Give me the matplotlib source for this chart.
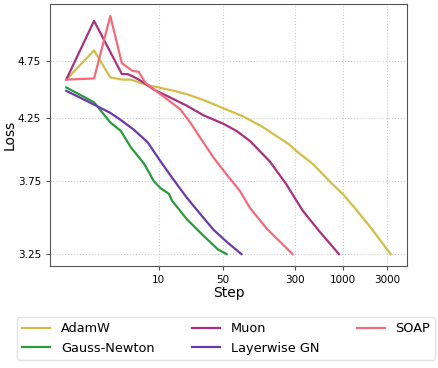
import matplotlib
matplotlib.use("Agg")
import matplotlib.pyplot as plt
from matplotlib.ticker import FixedLocator, NullLocator, FixedFormatter

# loss curves (step, loss)
adamw_steps = [1, 2, 3, 4, 5, 7.6, 10, 14.6, 20.3, 30.6, 50, 82.6, 136, 262, 310, 469, 762, 982, 1371, 2065, 3270]
adamw_loss = [4.58, 4.85, 4.60, 4.58, 4.58, 4.53, 4.51, 4.48, 4.45, 4.40, 4.33, 4.26, 4.17, 4.03, 3.98, 3.88, 3.73, 3.66, 3.55, 3.41, 3.25]

gn_steps = [1, 2, 3, 3.9, 5, 7, 8.9, 10.5, 12.9, 14, 20.3, 30.6, 44, 54.6]
gn_loss = [4.51, 4.38, 4.21, 4.14, 4.01, 3.88, 3.75, 3.70, 3.66, 3.61, 3.48, 3.37, 3.28, 3.25]

muon_steps = [1, 2, 4, 4.6, 5.2, 6.4, 8.9, 13.5, 20.3, 30.6, 50, 70, 97.5, 160, 241, 364, 550, 900]
muon_loss = [4.58, 5.14, 4.63, 4.63, 4.61, 4.57, 4.49, 4.42, 4.35, 4.27, 4.20, 4.14, 4.06, 3.90, 3.73, 3.54, 3.40, 3.25]

lgn_steps = [1, 2, 3, 3.9, 5.4, 7.6, 10.5, 14.6, 20.3, 28, 39.3, 54.6, 79]
lgn_loss = [4.48, 4.36, 4.29, 4.23, 4.15, 4.05, 3.90, 3.76, 3.63, 3.52, 3.41, 3.33, 3.25]

soap_steps = [1, 2, 3, 4, 5.2, 6.1, 7.2, 10.5, 17.2, 22, 28, 39.3, 54.6, 76, 97.5, 147, 283]
soap_loss = [4.58, 4.59, 5.19, 4.73, 4.66, 4.65, 4.55, 4.45, 4.32, 4.21, 4.09, 3.93, 3.80, 3.68, 3.56, 3.42, 3.25]

xticks = [10, 50, 300, 1000, 3000]
yticks = [3.25, 3.75, 4.25, 4.75]

fig = plt.figure(figsize=(4.39, 3.68), dpi=100)
ax = fig.add_axes([0.114, 0.277, 0.813, 0.712])

l1, = ax.plot(adamw_steps, adamw_loss, color='#d2be48', lw=1.6, label='AdamW')
l2, = ax.plot(gn_steps, gn_loss, color='#2a9a3c', lw=1.6, label='Gauss-Newton')
l3, = ax.plot(muon_steps, muon_loss, color='#a8307c', lw=1.6, label='Muon')
l4, = ax.plot(lgn_steps, lgn_loss, color='#6a3aaa', lw=1.6, label='Layerwise GN')
l5, = ax.plot(soap_steps, soap_loss, color='#f26b7a', lw=1.6, label='SOAP')

ax.set_xscale('log')
ax.set_yscale('log')
ax.xaxis.set_major_locator(FixedLocator(xticks))
ax.xaxis.set_major_formatter(FixedFormatter([str(t) for t in xticks]))
ax.xaxis.set_minor_locator(NullLocator())
ax.yaxis.set_major_locator(FixedLocator(yticks))
ax.yaxis.set_major_formatter(FixedFormatter(['%.2f' % t for t in yticks]))
ax.yaxis.set_minor_locator(NullLocator())
ax.tick_params(labelsize=7.5, length=3, color='#555555')
ax.grid(True, color='#cccccc', linestyle=':', linewidth=0.8)
for s in ax.spines.values():
    s.set_color('#555555')

ax.set_xlabel('Step', fontsize=10, labelpad=1)
ax.set_ylabel('Loss', fontsize=10, labelpad=1)

fig.legend(handles=[l1, l2, l3, l4, l5], loc='lower center', ncol=3,
           bbox_to_anchor=(0.515, 0.005), fontsize=9.3, frameon=True,
           handlelength=2.2, columnspacing=2.9, edgecolor='#dddddd')

fig.savefig('out.png', dpi=100)
